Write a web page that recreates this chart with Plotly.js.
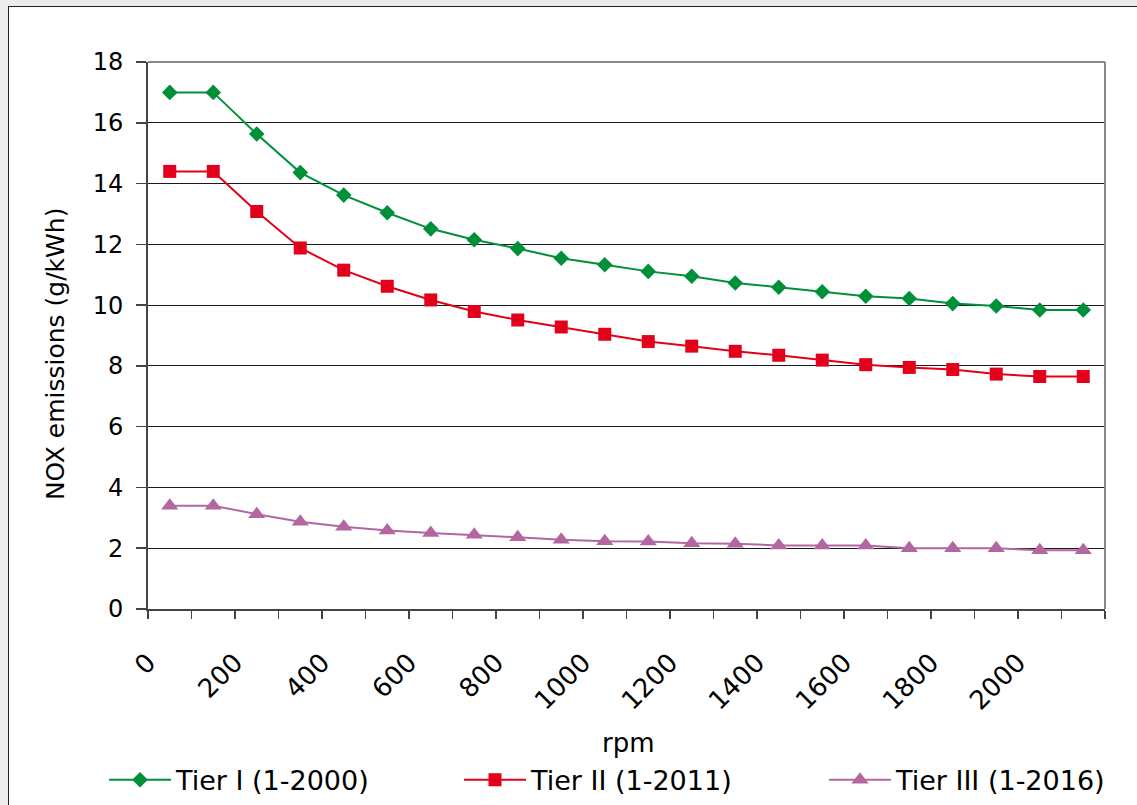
<!DOCTYPE html>
<html>
<head>
<meta charset="utf-8">
<script src="https://cdn.plot.ly/plotly-3.0.1.min.js"></script>
<style>
  html, body { margin: 0; padding: 0; width: 1137px; height: 805px; overflow: hidden; background: #ececec; }
  #frame { position: absolute; left: 8px; top: 6px; width: 1200px; height: 900px; background: #ffffff; border: 1.5px solid #222; }
  #chart { position: absolute; left: 0; top: 0; width: 1137px; height: 805px; }
</style>
</head>
<body>
<div id="frame"></div>
<div id="chart"></div>
<script>
// Data
const rpm = [0, 100, 200, 300, 400, 500, 600, 700, 800, 900, 1000, 1100, 1200, 1300, 1400, 1500, 1600, 1700, 1800, 1900, 2000, 2100];
const tierI = [17.0, 17.0, 15.63, 14.36, 13.62, 13.04, 12.51, 12.15, 11.86, 11.54, 11.33, 11.11, 10.95, 10.73, 10.59, 10.44, 10.29, 10.22, 10.05, 9.97, 9.84, 9.84];
const tierII = [14.4, 14.4, 13.08, 11.88, 11.15, 10.62, 10.17, 9.79, 9.51, 9.28, 9.04, 8.80, 8.65, 8.48, 8.35, 8.19, 8.04, 7.95, 7.88, 7.73, 7.65, 7.65];
const tierIII = [3.4, 3.4, 3.12, 2.87, 2.71, 2.58, 2.5, 2.44, 2.36, 2.28, 2.23, 2.22, 2.16, 2.15, 2.09, 2.09, 2.09, 2.0, 2.0, 2.0, 1.93, 1.93];
const seriesNames = ['Tier I (1-2000)', 'Tier II (1-2011)', 'Tier III (1-2016)'];
const xTickValues = [0, 200, 400, 600, 800, 1000, 1200, 1400, 1600, 1800, 2000];
const xTickLabels = ['0', '200', '400', '600', '800', '1000', '1200', '1400', '1600', '1800', '2000'];
const yTickValues = [0, 2, 4, 6, 8, 10, 12, 14, 16, 18];
const xTitle = 'rpm';
const yTitle = 'NOX emissions (g/kWh)';

const FONT = 'DejaVu Sans, sans-serif';
const step = rpm[1] - rpm[0];
const half = step / 2;

const traces = [
  { x: rpm, y: tierI, name: seriesNames[0], mode: 'lines+markers', legend: 'legend',
    line: { color: '#00903A', width: 2 }, marker: { symbol: 'diamond', size: 12, color: '#00903A' } },
  { x: rpm, y: tierII, name: seriesNames[1], mode: 'lines+markers', legend: 'legend2',
    line: { color: '#E2001A', width: 2 }, marker: { symbol: 'square', size: 13, color: '#E2001A' } },
  { x: rpm, y: tierIII, name: seriesNames[2], mode: 'lines+markers', legend: 'legend3',
    line: { color: '#B367A1', width: 2 }, marker: { symbol: 'triangle-up', size: 15, color: '#B367A1' } }
];

function legendAt(xFrac) {
  return {
    orientation: 'h', xref: 'container', x: xFrac, xanchor: 'left', y: -0.313, yanchor: 'middle',
    font: { family: FONT, size: 27, color: '#000' }, bgcolor: 'rgba(0,0,0,0)', itemwidth: 62
  };
}

const layout = {
  width: 1137, height: 805,
  paper_bgcolor: 'rgba(0,0,0,0)',
  plot_bgcolor: '#ffffff',
  margin: { l: 148, r: 32, t: 62, b: 196, autoexpand: false },
  font: { family: FONT, size: 23, color: '#000' },
  showlegend: true,
  legend: legendAt(0.0915),
  legend2: legendAt(0.4037),
  legend3: legendAt(0.7247),
  xaxis: {
    type: 'linear',
    automargin: false,
    range: [rpm[0] - half, rpm[rpm.length - 1] + half],
    tickmode: 'array',
    tickvals: xTickValues.map(v => v - half),
    ticktext: xTickLabels,
    tickangle: -45,
    ticklabelstandoff: 18,
    ticks: 'outside', ticklen: 8, tickwidth: 1.5, tickcolor: '#444',
    minor: { tickmode: 'linear', tick0: rpm[0] - half, dtick: step, ticks: 'outside', ticklen: 8, tickwidth: 1.5, tickcolor: '#444', showgrid: false },
    tickfont: { family: FONT, size: 26, color: '#000' },
    showgrid: false, zeroline: false,
    showline: true, linecolor: '#444', linewidth: 2
  },
  yaxis: {
    automargin: false,
    range: [0, 18],
    tickmode: 'array', tickvals: yTickValues,
    ticks: 'outside', ticklen: 10, tickwidth: 1.5, tickcolor: '#444',
    ticklabelstandoff: 8,
    tickfont: { family: FONT, size: 24, color: '#000' },
    showgrid: true, gridcolor: '#1a1a1a', gridwidth: 1,
    zeroline: false,
    showline: true, linecolor: '#444', linewidth: 2
  },
  annotations: [
    { text: xTitle, xref: 'paper', yref: 'paper', x: 0.5016, y: -0.245, xanchor: 'center', yanchor: 'middle',
      showarrow: false, font: { family: FONT, size: 26, color: '#000' } },
    { text: yTitle, xref: 'paper', yref: 'paper', x: -0.0972, y: 0.466, xanchor: 'center', yanchor: 'middle',
      textangle: -90, showarrow: false, font: { family: FONT, size: 25, color: '#000' } }
  ],
  shapes: [
    { type: 'line', xref: 'paper', yref: 'paper', x0: 0, x1: 1, y0: 1, y1: 1, line: { color: '#888', width: 2 } },
    { type: 'line', xref: 'paper', yref: 'paper', x0: 1, x1: 1, y0: 0, y1: 1, line: { color: '#888', width: 2 } }
  ]
};

Plotly.newPlot('chart', traces, layout, { displayModeBar: false, staticPlot: true });
</script>
</body>
</html>
